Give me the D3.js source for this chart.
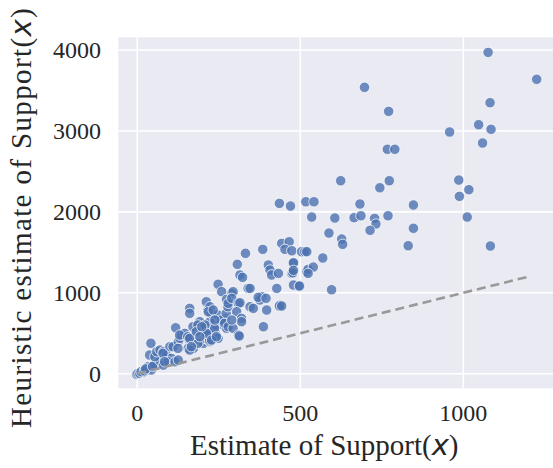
<!DOCTYPE html>
<html>
<head>
<meta charset="utf-8">
<script src="https://cdn.jsdelivr.net/npm/d3@7"></script>
<style>
  body { margin: 0; background: #fff; }
  text { font-family: "Liberation Serif", serif; fill: #262626; }
</style>
</head>
<body>
<svg id="chart" width="553" height="468"></svg>
<script>
// support estimate (x) vs heuristic estimate
const supportX = [
  -2, 2, 8, 18, 29, 39, 54, 64, 33, 43, 53, 12, 22, 26, 47, 70,
  42, 38, 54, 60, 70, 80, 85, 90, 100, 110, 105, 80, 95, 79, 84,
  118, 126, 131, 136, 146, 156, 162, 167, 156, 172, 182, 187, 192, 198,
  116, 126, 192, 203, 208, 223, 228, 238, 244, 248, 264, 269, 274, 238, 223,
  161, 161, 212, 217, 227, 248, 258, 171, 186, 207, 217, 237, 130, 155, 161, 181, 186, 212, 222,
  268, 273, 278, 125, 161, 166,
  307, 315, 323, 248, 259, 290, 294, 274, 279, 290, 310, 315, 305, 320, 320,
  340, 346, 346, 356, 382, 376, 397, 402, 407, 412, 433, 428, 438, 387,
  474, 479, 479, 499, 520, 223, 218, 233, 238, 208, 213, 228, 243, 279, 294, 310, 290, 198, 192,
  313, 371, 395, 436, 443, 332, 385,
  436, 470, 517, 443, 466, 453, 474, 504, 514, 479,
  1076, 1225, 697, 771, 1082, 1047, 1085, 958, 1059, 767, 790, 624, 773, 744, 986, 1017, 988,
  542, 535, 606, 683, 665, 686, 728, 732, 714, 769, 847, 847, 831, 1012, 1083,
  588, 627, 630, 569, 596, 520, 524, 540, 524, 477, 479, 497
]
const heuristicY = [
  -7, 5, 5, 17, 46, 67, 107, 129, 86, 46, 107, 25, 35, 60, 90, 160,
  376, 231, 210, 272, 293, 272, 190, 231, 334, 334, 190, 107, 148, 252, 148,
  568, 396, 437, 478, 499, 437, 396, 334, 313, 313, 540, 581, 643, 519,
  148, 169, 416, 376, 437, 396, 478, 519, 664, 437, 602, 684, 561, 602, 643,
  808, 746, 890, 787, 746, 725, 664, 581, 602, 581, 519, 561, 478, 457, 437, 519, 376, 478, 416,
  623, 746, 828, 313, 293, 334,
  1352, 1220, 1191, 1105, 1014, 993, 1014, 919, 870, 932, 870, 877, 766, 684, 643,
  1055, 1055, 828, 808, 951, 911, 787, 1343, 1281, 1220, 1240, 1055, 849, 581,
  1240, 1364, 1096, 1084, 1260, 828, 766, 787, 664, 602, 499, 416, 457, 581, 561, 478, 664, 581, 457,
  466, 944, 932, 837, 837, 1488, 1537,
  2105, 2072, 2125, 1611, 1631, 1537, 1520, 1508, 1508, 1372,
  3971, 3638, 3539, 3242, 3349, 3077, 3020, 2987, 2851, 2773, 2773, 2385, 2385, 2298, 2393, 2274, 2192,
  2125, 1936, 1924, 2097, 1928, 1952, 1920, 1850, 1772, 1952, 2085, 1797, 1582, 1936, 1578,
  1738, 1664, 1599, 1430, 1038, 1508, 1290, 1318, 1240, 1248, 1277, 1084
]
const refLine = [0, 1200]          // y = x reference
const xTicks = [0, 500, 1000]
const yTicks = [0, 1000, 2000, 3000, 4000]

const svg = d3.select('#chart')

const plotL = 118.3, plotT = 37.3, plotR = 553, plotB = 388.3

let x = d3.scaleLinear()
  .domain([-58, 1275])
  .range([plotL, plotR])

let y = d3.scaleLinear()
  .domain([-180, 4157])
  .range([plotB, plotT])

svg.append('rect')
  .attr('x', plotL)
  .attr('y', plotT)
  .attr('width', plotR - plotL)
  .attr('height', plotB - plotT)
  .attr('fill', '#eaeaf2')

// grid
svg.append('g')
  .selectAll('line')
  .data(xTicks)
  .join('line')
  .attr('x1', d => x(d)).attr('x2', d => x(d))
  .attr('y1', plotT).attr('y2', plotB)
  .attr('stroke', '#fff').attr('stroke-width', 1.6)

svg.append('g')
  .selectAll('line')
  .data(yTicks)
  .join('line')
  .attr('x1', plotL).attr('x2', plotR)
  .attr('y1', d => y(d)).attr('y2', d => y(d))
  .attr('stroke', '#fff').attr('stroke-width', 1.6)

// tick labels
svg.append('g')
  .selectAll('text')
  .data(xTicks)
  .join('text')
  .attr('x', d => x(d))
  .attr('y', 421)
  .attr('text-anchor', 'middle')
  .attr('font-family', 'Liberation Serif')
  .attr('font-size', 24)
  .text(d => d)

svg.append('g')
  .selectAll('text')
  .data(yTicks)
  .join('text')
  .attr('x', 101)
  .attr('y', d => y(d))
  .attr('dy', '0.33em')
  .attr('text-anchor', 'end')
  .attr('font-family', 'Liberation Serif')
  .attr('font-size', 24)
  .text(d => d)

// points
let pts = supportX.map((v, i) => ({ sx: v, hy: heuristicY[i] }))

svg.append('g')
  .selectAll('circle')
  .data(pts)
  .join('circle')
  .attr('cx', d => x(d.sx))
  .attr('cy', d => y(d.hy))
  .attr('r', 5.2)
  .attr('fill', '#4c72b0')
  .attr('fill-opacity', 0.8)
  .attr('stroke', '#fff')
  .attr('stroke-width', 0.75)

// dashed y = x
svg.append('line')
  .attr('x1', x(refLine[0])).attr('y1', y(refLine[0]))
  .attr('x2', x(refLine[1])).attr('y2', y(refLine[1]))
  .attr('stroke', '#999')
  .attr('stroke-width', 2.6)
  .attr('stroke-dasharray', '9,5')

// axis titles, spread out to the width the Palatino original takes
const fitTitle = (sel, target) => {
  let len = sel.node().getComputedTextLength()
  let n = sel.text().length
  if (len < target) sel.attr('letter-spacing', ((target - len) / n).toFixed(2) + 'px')
}

let xt = svg.append('text')
  .attr('x', 190)
  .attr('y', 455)
  .attr('font-size', 29)
xt.append('tspan').text('Estimate of Support(')
xt.append('tspan').attr('font-family', 'DejaVu Sans').attr('font-style', 'italic').text('x')
xt.append('tspan').text(')')
fitTitle(xt, 266)

let yt = svg.append('text')
  .attr('transform', 'translate(31,428) rotate(-90)')
  .attr('font-size', 29)
yt.append('tspan').text('Heuristic estimate of Support(')
yt.append('tspan').attr('font-family', 'DejaVu Sans').attr('font-style', 'italic').text('x')
yt.append('tspan').text(')')
fitTitle(yt, 421)
</script>
</body>
</html>
